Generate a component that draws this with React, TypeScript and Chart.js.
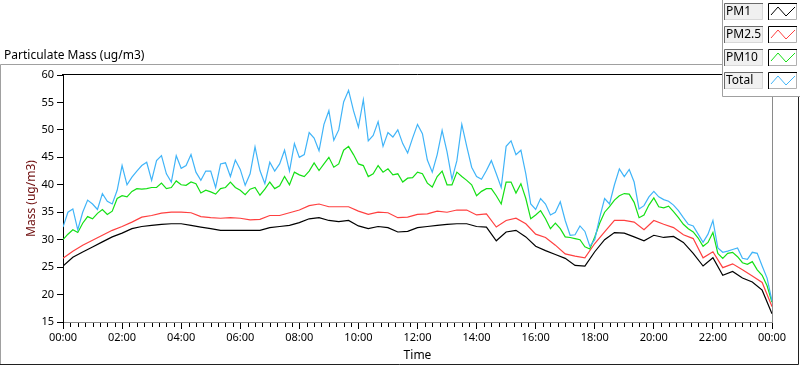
import React, { useEffect, useRef } from 'react';
import { Chart, registerables } from 'chart.js';

Chart.register(...registerables);

// ---------------- data ----------------
const SERIES_NAMES = ['PM1', 'PM2.5', 'PM10', 'Total'];
const SERIES_COLORS = ['#000000', '#ff4040', '#14e014', '#40b4f8'];

const CHART_TITLE = 'Particulate Mass (ug/m3)';
const Y_TITLE = 'Mass (ug/m3)';
const X_TITLE = 'Time';

// minutes between samples
const STEP_COARSE = 20;
const STEP_FINE = 10;

// PM1, every 20 minutes from 00:00 to 24:00
const pm1 = [
  25.2, 26.8, 27.75, 28.65, 29.6, 30.5, 31.2, 32.0, 32.4, 32.6, 32.8, 32.9,
  32.9, 32.6, 32.3, 32.0, 31.7, 31.7, 31.7, 31.7, 31.7, 32.2, 32.4, 32.6,
  33.1, 33.8, 34.0, 33.5, 33.3, 33.5, 32.5, 32.0, 32.4, 32.2, 31.4, 31.5,
  32.2, 32.4, 32.6, 32.8, 32.9, 32.9, 32.4, 32.3, 29.8, 31.4, 31.7, 30.5,
  28.8, 28.0, 27.3, 26.6, 25.3, 25.2, 27.8, 30.0, 31.3, 31.2, 30.5, 29.8,
  30.8, 30.4, 30.6, 29.5, 27.5, 25.2, 26.7, 23.5, 24.2, 23.0, 22.3, 20.8, 16.5,
];

// PM2.5, every 20 minutes
const pm25 = [
  26.6, 27.9, 29.0, 29.9, 30.8, 31.7, 32.4, 33.2, 34.1, 34.4, 34.85, 35.0,
  35.0, 34.9, 34.2, 34.0, 33.9, 34.0, 33.9, 33.6, 33.7, 34.4, 34.4, 34.9,
  35.4, 36.2, 36.5, 36.0, 36.0, 36.0, 35.2, 34.6, 35.0, 34.9, 34.0, 34.1,
  34.6, 34.7, 35.2, 35.0, 35.4, 35.4, 34.5, 34.7, 32.3, 33.5, 33.9, 32.9,
  31.0, 30.4, 29.0, 27.4, 27.0, 26.7, 29.3, 31.4, 33.5, 33.5, 33.2, 31.8,
  33.5, 32.8, 32.2, 30.9, 30.2, 26.7, 27.8, 24.9, 25.6, 24.5, 23.4, 22.2, 17.8,
];

// PM10, every 10 minutes
const pm10 = [
  30.0, 31.0, 31.8, 31.3, 33.0, 34.2, 33.8, 34.8, 35.5, 34.6,
  35.2, 37.5, 38.0, 37.8, 38.8, 39.3, 39.2, 39.3, 39.5, 39.5,
  40.3, 39.3, 39.5, 40.7, 40.0, 39.9, 40.5, 40.2, 38.5, 39.0,
  38.7, 38.3, 39.3, 39.5, 40.5, 39.5, 39.0, 38.2, 39.2, 39.5,
  38.1, 39.2, 40.5, 39.3, 39.8, 41.5, 40.0, 42.3, 41.8, 41.5,
  42.5, 44.0, 42.6, 43.8, 45.0, 43.2, 43.8, 46.3, 47.0, 45.5,
  43.8, 43.5, 41.5, 42.0, 43.5, 42.3, 42.9, 41.8, 42.0, 40.5,
  41.2, 41.3, 42.3, 42.0, 40.3, 39.6, 41.5, 42.5, 40.0, 40.0,
  42.3, 41.5, 40.8, 40.0, 38.0, 38.8, 39.3, 39.3, 38.0, 36.5,
  40.5, 40.5, 38.5, 40.2, 37.5, 33.8, 34.5, 35.3, 33.8, 32.0,
  33.0, 32.0, 30.5, 30.4, 30.2, 30.0, 28.7, 28.3, 30.5, 33.0,
  35.0, 36.0, 37.2, 38.0, 38.4, 38.3, 36.8, 34.0, 34.5, 36.3,
  37.6, 36.0, 35.8, 36.1, 35.1, 34.0, 32.8, 32.0, 31.4, 30.3,
  28.8, 29.5, 31.3, 27.5, 26.6, 27.5, 27.7, 26.9, 25.8, 25.5,
  26.0, 24.5, 23.5, 21.6, 18.6,
];

// Total, every 10 minutes
const total = [
  32.3, 35.0, 35.6, 31.8, 35.0, 37.2, 36.5, 35.5, 38.4, 37.0,
  36.5, 39.0, 43.5, 40.0, 41.4, 42.5, 43.5, 44.1, 40.8, 44.4,
  45.3, 42.0, 40.5, 45.3, 43.0, 43.5, 45.5, 42.3, 40.8, 42.5,
  42.5, 39.5, 43.8, 44.0, 41.5, 44.5, 42.8, 39.9, 42.0, 46.9,
  42.6, 40.2, 44.1, 42.5, 43.8, 46.3, 42.5, 47.5, 45.0, 45.5,
  49.5, 48.5, 46.2, 51.0, 53.5, 48.1, 50.0, 55.1, 57.2, 53.5,
  50.5, 55.5, 48.0, 49.0, 51.5, 47.0, 49.5, 48.7, 50.0, 47.5,
  45.8, 48.5, 51.0, 49.3, 44.5, 42.3, 45.5, 49.9, 46.0, 41.0,
  44.4, 51.0, 47.0, 43.2, 41.5, 41.0, 42.6, 44.4, 42.0, 39.5,
  47.0, 48.0, 45.5, 46.3, 42.0, 36.5, 35.5, 37.5, 36.5, 34.5,
  35.0, 36.9, 33.5, 30.8, 30.9, 32.5, 31.5, 28.8, 30.0, 34.0,
  37.5, 36.5, 40.0, 42.9, 41.5, 42.8, 40.5, 35.6, 36.2, 37.8,
  38.8, 37.8, 37.3, 37.0, 36.3, 35.3, 34.0, 32.8, 32.5, 31.0,
  29.5, 31.0, 33.5, 28.5, 27.7, 27.9, 28.2, 28.5, 26.6, 26.4,
  27.7, 27.5, 25.2, 23.0, 18.8,
];

// axes
const X_MIN = 0;
const X_MAX = 1440;
const X_MAJOR_STEP = 120;
const X_MINOR_STEP = 15;
const Y_MIN = 15;
const Y_MAX = 60;
const Y_STEP = 5;

// ---------------- helpers ----------------
const FONT = '"Noto Sans", "Open Sans", sans-serif';

const fmtTime = (m: number) => {
  const h = Math.floor(m / 60) % 24;
  const mm = Math.round(m % 60);
  return String(h).padStart(2, '0') + ':' + String(mm).padStart(2, '0');
};

const toPoints = (vals: number[], step: number) => vals.map((y, i) => ({ x: i * step, y }));

const decorPlugin = {
  id: 'decor',
  beforeDraw(chart: any) {
    const ctx = chart.ctx;
    ctx.save();
    ctx.fillStyle = '#ffffff';
    ctx.fillRect(0, 0, chart.width, chart.height);
    ctx.restore();
  },
  afterDraw(chart: any) {
    const ctx: CanvasRenderingContext2D = chart.ctx;
    const a = chart.chartArea;
    const xs = chart.scales.x;
    const W = chart.width;
    const H = chart.height;
    ctx.save();

    // minor x ticks
    ctx.strokeStyle = '#000';
    ctx.lineWidth = 1;
    for (let m = X_MIN; m <= X_MAX; m += X_MINOR_STEP) {
      if (m % X_MAJOR_STEP === 0) continue;
      const px = Math.round(xs.getPixelForValue(m)) + 0.5;
      ctx.beginPath();
      ctx.moveTo(px, a.bottom + 1);
      ctx.lineTo(px, a.bottom + 5);
      ctx.stroke();
    }

    // plot frame: top (black) and right (gray)
    const top = Math.round(a.top) - 0.5;
    const right = Math.round(a.right) + 0.5;
    ctx.strokeStyle = '#000';
    ctx.beginPath();
    ctx.moveTo(Math.round(a.left) - 1, top);
    ctx.lineTo(right, top);
    ctx.stroke();
    ctx.strokeStyle = '#8a8a8a';
    ctx.beginPath();
    ctx.moveTo(right, top);
    ctx.lineTo(right, Math.round(a.bottom) + 0.5);
    ctx.stroke();

    // outer panel frame
    ctx.strokeStyle = '#a0a0a0';
    ctx.beginPath();
    ctx.moveTo(0.5, H - 1);
    ctx.lineTo(0.5, 64.5);
    ctx.lineTo(W - 2, 64.5);
    ctx.stroke();
    ctx.strokeStyle = '#202020';
    ctx.beginPath();
    ctx.moveTo(0, H - 0.5);
    ctx.lineTo(W - 1.5, H - 0.5);
    ctx.lineTo(W - 1.5, 64);
    ctx.stroke();

    // chart title
    ctx.fillStyle = '#000';
    ctx.font = `12px ${FONT}`;
    ctx.textAlign = 'left';
    ctx.textBaseline = 'alphabetic';
    ctx.fillText(CHART_TITLE, 4, 59);

    // x title
    ctx.textAlign = 'center';
    ctx.fillText(X_TITLE, (a.left + a.right) / 2, 359);

    // y title
    ctx.save();
    ctx.translate(35, (a.top + a.bottom) / 2);
    ctx.rotate(-Math.PI / 2);
    ctx.fillStyle = '#6e0e0e';
    ctx.textAlign = 'center';
    ctx.fillText(Y_TITLE, 0, 0);
    ctx.restore();

    // legend panel
    const lx = 722;
    const ly = 0;
    const lw = W - lx;
    const lh = 96;
    ctx.fillStyle = '#ffffff';
    ctx.fillRect(lx, ly, lw, lh);
    ctx.strokeStyle = '#a0a0a0';
    ctx.beginPath();
    ctx.moveTo(lx + 0.5, ly);
    ctx.lineTo(lx + 0.5, lh + 0.5);
    ctx.lineTo(W, lh + 0.5);
    ctx.stroke();

    SERIES_NAMES.forEach((name, i) => {
      const by = 3 + i * 23;
      const bh = 17;
      // label box
      ctx.fillStyle = '#f0f0f0';
      ctx.fillRect(724, by, 39, bh);
      ctx.strokeStyle = '#6a6a6a';
      ctx.beginPath();
      ctx.moveTo(724.5, by + bh);
      ctx.lineTo(724.5, by + 0.5);
      ctx.lineTo(763, by + 0.5);
      ctx.stroke();
      ctx.strokeStyle = '#d8d8d8';
      ctx.beginPath();
      ctx.moveTo(762.5, by + 1);
      ctx.lineTo(762.5, by + bh - 0.5);
      ctx.lineTo(725, by + bh - 0.5);
      ctx.stroke();
      ctx.fillStyle = '#000';
      ctx.font = `12px ${FONT}`;
      ctx.textAlign = 'left';
      ctx.textBaseline = 'middle';
      ctx.fillText(name, 726, by + bh / 2 + 0.5);

      // sample box
      const sx = 768;
      const sw = 29;
      ctx.fillStyle = '#ffffff';
      ctx.fillRect(sx, by, sw, bh);
      ctx.strokeStyle = '#000';
      ctx.beginPath();
      ctx.moveTo(sx + 0.5, by + bh);
      ctx.lineTo(sx + 0.5, by + 0.5);
      ctx.lineTo(sx + sw, by + 0.5);
      ctx.stroke();
      ctx.strokeStyle = '#b0b0b0';
      ctx.beginPath();
      ctx.moveTo(sx + sw - 0.5, by + 1);
      ctx.lineTo(sx + sw - 0.5, by + bh - 0.5);
      ctx.lineTo(sx + 1, by + bh - 0.5);
      ctx.stroke();
      ctx.strokeStyle = SERIES_COLORS[i];
      ctx.beginPath();
      ctx.moveTo(sx + 3, by + 12);
      ctx.lineTo(sx + 10, by + 4);
      ctx.lineTo(sx + 18, by + 13);
      ctx.lineTo(sx + 27, by + 4);
      ctx.stroke();
    });

    ctx.restore();
  },
};

export default function App() {
  const ref = useRef<HTMLCanvasElement | null>(null);

  useEffect(() => {
    if (!ref.current) return;
    const seriesData = [
      toPoints(pm1, STEP_COARSE),
      toPoints(pm25, STEP_COARSE),
      toPoints(pm10, STEP_FINE),
      toPoints(total, STEP_FINE),
    ];
    const chart = new Chart(ref.current, {
      type: 'line',
      data: {
        datasets: SERIES_NAMES.map((name, i) => ({
          label: name,
          data: seriesData[i],
          borderColor: SERIES_COLORS[i],
          backgroundColor: SERIES_COLORS[i],
          borderWidth: 1.2,
          pointRadius: 0,
          tension: 0,
          fill: false,
          order: SERIES_NAMES.length - i,
        })),
      },
      options: {
        responsive: false,
        animation: false,
        events: [],
        layout: { padding: { left: 0, top: 75, right: 28, bottom: 0 } },
        plugins: {
          legend: { display: false },
          tooltip: { enabled: false },
          title: { display: false },
        },
        scales: {
          x: {
            type: 'linear',
            min: X_MIN,
            max: X_MAX,
            afterFit: (s: any) => {
              s.height = 43;
            },
            ticks: {
              stepSize: X_MAJOR_STEP,
              autoSkip: false,
              maxRotation: 0,
              color: '#000',
              padding: 2,
              font: { family: FONT, size: 11 },
              callback: (v: any) => fmtTime(Number(v)),
            },
            grid: { drawOnChartArea: false, drawTicks: true, tickLength: 7, color: '#000' },
            border: { display: true, color: '#8a8a8a', width: 1 },
          },
          y: {
            min: Y_MIN,
            max: Y_MAX,
            afterFit: (s: any) => {
              s.width = 63;
            },
            ticks: {
              stepSize: Y_STEP,
              color: '#000',
              padding: 3,
              font: { family: FONT, size: 11 },
            },
            grid: { drawOnChartArea: false, drawTicks: true, tickLength: 6, color: '#000' },
            border: { display: true, color: '#000', width: 1 },
          },
        },
      },
      plugins: [decorPlugin],
    } as any);
    return () => chart.destroy();
  }, []);

  return (
    <div style={{ position: 'fixed', left: 0, top: 0, width: 800, height: 365, background: '#fff' }}>
      <canvas ref={ref} width={800} height={365} style={{ display: 'block', width: 800, height: 365 }} />
    </div>
  );
}
